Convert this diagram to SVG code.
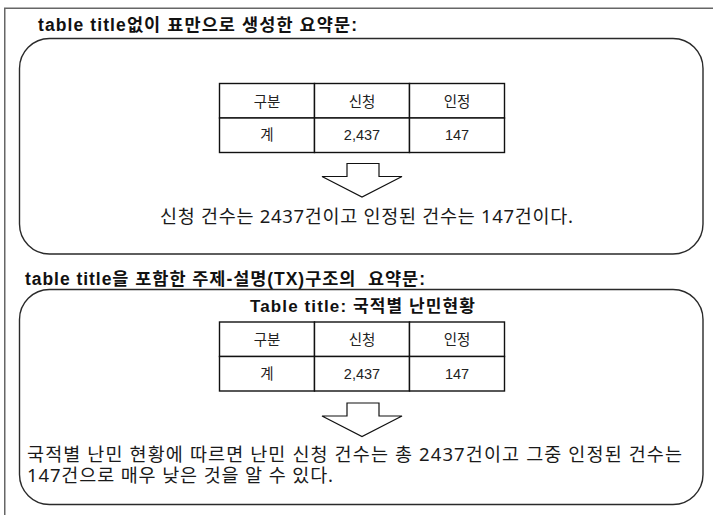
<svg xmlns="http://www.w3.org/2000/svg" width="713" height="515" viewBox="0 0 713 515">
<style>
.frame{fill:none;stroke:#666;stroke-width:1.5}
.box{fill:none;stroke:#2a2a2a;stroke-width:1.4}
.cell{fill:#fff;stroke:#111;stroke-width:1.4}
.hd{font-family:"Liberation Sans","Noto Sans CJK KR",sans-serif;font-weight:bold;font-size:17.5px;fill:#111}
.tt{font-family:"Liberation Sans","Noto Sans CJK KR",sans-serif;font-weight:bold;font-size:17px;fill:#111}
.td{font-family:"Liberation Sans","Noto Sans CJK KR",sans-serif;font-size:14.5px;fill:#222;text-anchor:middle}
.body{font-family:"Noto Sans","Noto Sans CJK KR",sans-serif;font-size:18.5px;fill:#1a1a1a}
.arr{fill:#fff;stroke:#111;stroke-width:1.2;stroke-linejoin:miter}
</style>
<rect width="713" height="515" fill="#fff"/>
<rect class="frame" x="4.75" y="8.25" width="760" height="560"/>

<g id="title1"><text class="hd" x="38" y="31" textLength="319">table title없이 표만으로 생성한 요약문:</text></g>
<g id="box1"><rect class="box" x="19.5" y="38.5" width="683.5" height="215.5" rx="30" ry="30"/></g>
<g id="table1">
<rect class="cell" x="219.5" y="83.5" width="95" height="34.5"/>
<rect class="cell" x="314.5" y="83.5" width="95" height="34.5"/>
<rect class="cell" x="409.5" y="83.5" width="95" height="34.5"/>
<rect class="cell" x="219.5" y="118" width="95" height="34.5"/>
<rect class="cell" x="314.5" y="118" width="95" height="34.5"/>
<rect class="cell" x="409.5" y="118" width="95" height="34.5"/>
<text class="td" x="267" y="106.5">구분</text>
<text class="td" x="362" y="106.5">신청</text>
<text class="td" x="457" y="106.5">인정</text>
<text class="td" x="267" y="140">계</text>
<text class="td" x="362" y="140">2,437</text>
<text class="td" x="457" y="140">147</text>
</g>
<g id="sentence1"><text class="body" x="160" y="223" textLength="413">신청 건수는 2437건이고 인정된 건수는 147건이다.</text></g>

<g id="title2"><text class="hd" x="25" y="285" textLength="400" style="white-space:pre">table title을 포함한 주제-설명(TX)구조의  요약문:</text></g>
<g id="box2"><rect class="box" x="19.5" y="289.5" width="683.5" height="215" rx="30" ry="30"/></g>
<g id="tabletitle"><text class="tt" x="250" y="312" textLength="225">Table title: 국적별 난민현황</text></g>
<g id="table2">
<rect class="cell" x="219.5" y="322" width="95" height="34.5"/>
<rect class="cell" x="314.5" y="322" width="95" height="34.5"/>
<rect class="cell" x="409.5" y="322" width="95" height="34.5"/>
<rect class="cell" x="219.5" y="356.5" width="95" height="34.5"/>
<rect class="cell" x="314.5" y="356.5" width="95" height="34.5"/>
<rect class="cell" x="409.5" y="356.5" width="95" height="34.5"/>
<text class="td" x="267" y="345">구분</text>
<text class="td" x="362" y="345">신청</text>
<text class="td" x="457" y="345">인정</text>
<text class="td" x="267" y="379">계</text>
<text class="td" x="362" y="379">2,437</text>
<text class="td" x="457" y="379">147</text>
</g>
<g id="sentence2">
<text class="body" x="27" y="461" textLength="655">국적별 난민 현황에 따르면 난민 신청 건수는 총 2437건이고 그중 인정된 건수는</text>
<text class="body" x="27" y="482" textLength="306">147건으로 매우 낮은 것을 알 수 있다.</text>
</g>

<g id="connectors">
<polygon class="arr" points="347,163.5 379,163.5 379,176.5 402,176.5 362,197 322,176.5 347,176.5"/>
<polygon class="arr" points="347,403 379,403 379,416 402,416 362,436.5 322,416 347,416"/>
</g>
</svg>
